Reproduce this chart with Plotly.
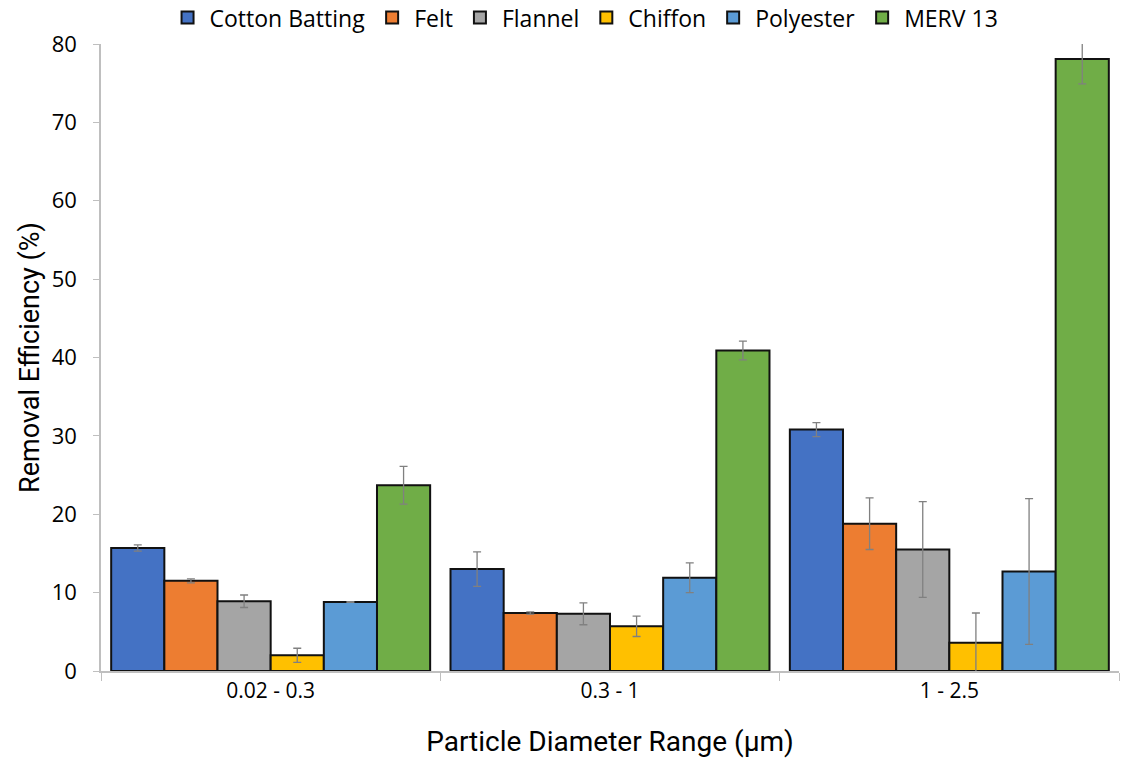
import plotly.graph_objects as go

categories = ["0.02 - 0.3", "0.3 - 1", "1 - 2.5"]
series_names = ["Cotton Batting", "Felt", "Flannel", "Chiffon", "Polyester", "MERV 13"]
cotton = [15.7, 13.0, 30.8]
felt = [11.5, 7.4, 18.8]
flannel = [8.9, 7.3, 15.5]
chiffon = [2.0, 5.7, 3.6]
polyester = [8.8, 11.9, 12.7]
merv = [23.7, 40.9, 78.1]
cotton_err = [0.4, 2.2, 0.9]
felt_err = [0.25, 0.15, 3.3]
flannel_err = [0.8, 1.4, 6.1]
chiffon_err = [0.9, 1.3, 3.8]
polyester_err = [0.05, 1.9, 9.3]
merv_err = [2.4, 1.2, 3.2]
colors = ["#4472C4", "#ED7D31", "#A5A5A5", "#FFC000", "#5B9BD5", "#70AD47"]

values = [cotton, felt, flannel, chiffon, polyester, merv]
errors = [cotton_err, felt_err, flannel_err, chiffon_err, polyester_err, merv_err]

fig = go.Figure()
for name, vals, errs, col in zip(series_names, values, errors, colors):
    fig.add_trace(go.Bar(
        x=categories, y=vals, name=name,
        marker=dict(color=col, line=dict(color="#111111", width=2)),
        error_y=dict(type="data", array=errs, visible=True, color="#808080", thickness=1.3, width=4),
    ))

font_main = "Roboto, sans-serif"
fig.update_layout(
    width=1121, height=767,
    paper_bgcolor="white", plot_bgcolor="white",
    margin=dict(l=101, r=2, t=44, b=96, autoexpand=False),
    barmode="group", bargap=0.06, bargroupgap=0,
    font=dict(family=font_main, color="#000000"),
    legend=dict(orientation="h", x=0.475, xanchor="center", y=1.042, yanchor="middle",
                font=dict(size=23, family="Open Sans, sans-serif"), itemwidth=34,
                traceorder="normal", bgcolor="rgba(0,0,0,0)"),
    xaxis=dict(
        tickson="boundaries", ticks="outside", ticklen=8, tickcolor="#bfbfbf",
        showline=True, linecolor="#bfbfbf", linewidth=1.5,
        tickfont=dict(size=21, family="Open Sans, sans-serif"),
        title=dict(text="Particle Diameter Range (µm)", font=dict(size=28, family=font_main), standoff=28),
        showgrid=False,
    ),
    yaxis=dict(
        range=[0, 80], dtick=10, ticks="outside", ticklen=6, tickcolor="#bfbfbf",
        showline=True, linecolor="#bfbfbf", linewidth=1.5, ticklabelstandoff=12,
        tickfont=dict(size=22, family="Open Sans, DejaVu Sans, sans-serif"),
        title=dict(text="Removal Efficiency (%)", font=dict(size=27, family=font_main), standoff=4),
        showgrid=False, zeroline=False,
    ),
)
fig.write_html("out.html")
